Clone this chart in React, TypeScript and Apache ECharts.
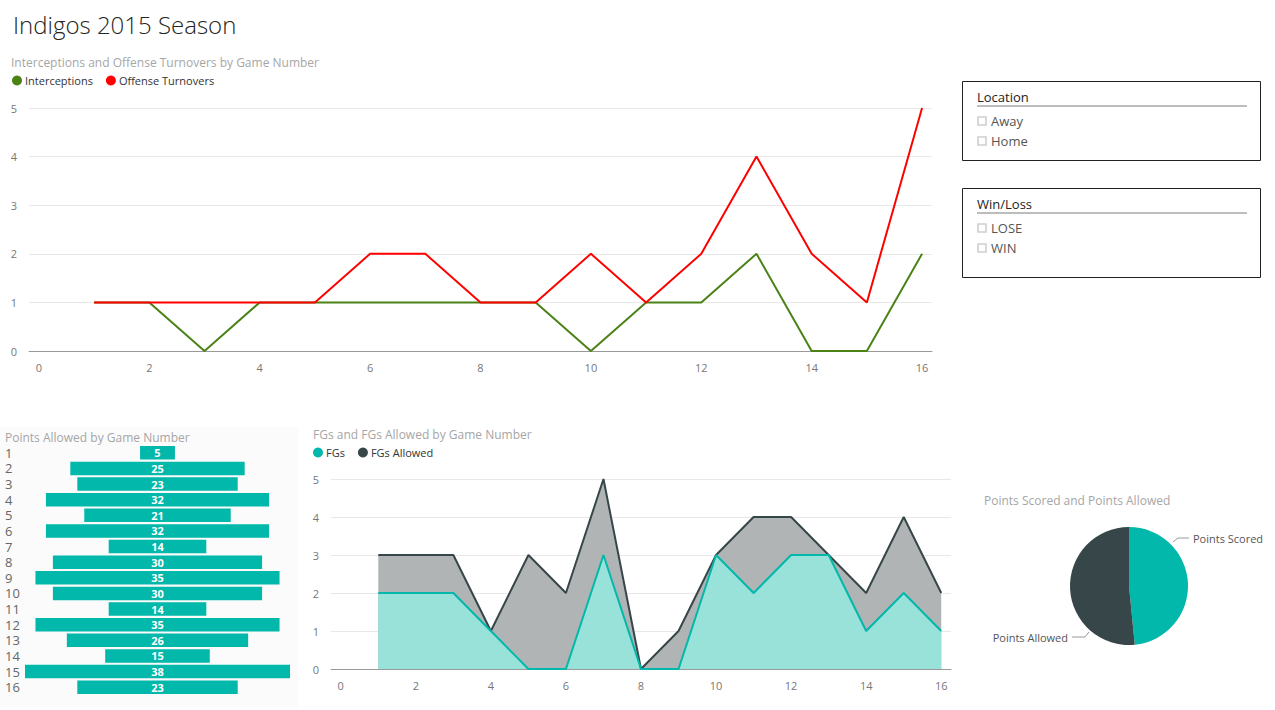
import React, { useEffect, useRef } from "react";
import * as echarts from "echarts";

const games = [1, 2, 3, 4, 5, 6, 7, 8, 9, 10, 11, 12, 13, 14, 15, 16];
const interceptions = [1, 1, 0, 1, 1, 1, 1, 1, 1, 0, 1, 1, 2, 0, 0, 2];
const offenseTurnovers = [1, 1, 1, 1, 1, 2, 2, 1, 1, 2, 1, 2, 4, 2, 1, 5];
const pointsAllowed = [5, 25, 23, 32, 21, 32, 14, 30, 35, 30, 14, 35, 26, 15, 38, 23];
const fgs = [2, 2, 2, 1, 0, 0, 3, 0, 0, 3, 2, 3, 3, 1, 2, 1];
const fgsAllowed = [3, 3, 3, 1, 3, 2, 5, 0, 1, 3, 4, 4, 3, 2, 4, 2];
const pointsScoredTotal = 374;
const xTickValues = [0, 2, 4, 6, 8, 10, 12, 14, 16];
const locationOptions = ["Away", "Home"];
const winLossOptions = ["LOSE", "WIN"];

const FONT = '"Segoe UI", "Open Sans", sans-serif';
const TEAL = "#01B8AA";
const DARK = "#374649";
const GREEN = "#4A8216";
const RED = "#FF0000";
const TITLE_GRAY = "#A6A6A6";
const AXIS_TXT = "#777777";

function slicer(title: string, options: string[], x: number, y: number, w: number, h: number) {
  const children: any[] = [
    { type: "rect", shape: { x: x + 0.5, y: y + 0.5, width: w, height: h }, style: { fill: "#fff", stroke: "#222", lineWidth: 1 } },
    { type: "text", x: x + 15, y: y + 16, style: { text: title, fill: "#222", font: `13px ${FONT}`, verticalAlign: "middle" } },
    { type: "line", shape: { x1: x + 15, y1: y + 25, x2: x + 285, y2: y + 25 }, style: { stroke: "#BDBDBD", lineWidth: 2 } },
  ];
  options.forEach((o, i) => {
    const cy = y + 40 + i * 20;
    children.push({ type: "rect", shape: { x: x + 16, y: cy - 4, width: 8, height: 8 }, style: { fill: "#fff", stroke: "#CFCFCF", lineWidth: 1.6 } });
    children.push({ type: "text", x: x + 29, y: cy, style: { text: o, fill: "#555", font: `13px ${FONT}`, verticalAlign: "middle" } });
  });
  return { type: "group", children };
}

export default function App() {
  const ref = useRef<HTMLDivElement>(null);
  useEffect(() => {
    document.body.style.margin = "0";
    const chart = echarts.init(ref.current!, undefined, { renderer: "svg" });
    const maxPA = Math.max(...pointsAllowed);
    const titleStyle = { fontFamily: FONT, fontSize: 12, fontWeight: "normal" as const, color: TITLE_GRAY };
    const legendText = { fontFamily: FONT, fontSize: 11, color: "#333", padding: [0, 0, 0, -2] };
    const option: any = {
      animation: false,
      textStyle: { fontFamily: FONT },
      title: [
        { text: "Indigos 2015 Season", left: 8, top: 7, textStyle: { fontFamily: FONT, fontSize: 24, fontWeight: 300, color: "#252423" } },
        { text: "Interceptions and Offense Turnovers by Game Number", left: 6, top: 51, textStyle: titleStyle },
        { text: "Points Allowed by Game Number", left: 0, top: 426, textStyle: titleStyle },
        { text: "FGs and FGs Allowed by Game Number", left: 308, top: 423, textStyle: titleStyle },
        { text: "Points Scored and Points Allowed", left: 979, top: 489, textStyle: titleStyle },
      ],
      legend: [
        {
          data: ["Interceptions", "Offense Turnovers"], left: 12, top: 75, icon: "circle", itemWidth: 10, itemHeight: 10, itemGap: 13,
          padding: 0, textStyle: legendText,
        },
        {
          data: ["FGs", "FGs Allowed"], left: 313, top: 447, icon: "circle", itemWidth: 10, itemHeight: 10, itemGap: 13,
          padding: 0, textStyle: legendText,
        },
      ],
      grid: [
        { left: 29, top: 108, width: 903, height: 243 },
        { left: 25, top: 445, width: 265, height: 250 },
        { left: 331, top: 479, width: 620, height: 190 },
      ],
      xAxis: [
        {
          gridIndex: 0, type: "value", min: -0.18, max: 16.18,
          axisLine: { lineStyle: { color: "#999" } }, axisTick: { show: false }, splitLine: { show: false },
          axisLabel: { customValues: xTickValues, color: AXIS_TXT, fontSize: 11, margin: 11, fontFamily: FONT },
        },
        { gridIndex: 1, type: "value", min: 0, max: maxPA, show: false },
        {
          gridIndex: 2, type: "value", min: -0.26, max: 16.26,
          axisLine: { lineStyle: { color: "#999" } }, axisTick: { show: false }, splitLine: { show: false },
          axisLabel: { customValues: xTickValues, color: AXIS_TXT, fontSize: 11, margin: 11, fontFamily: FONT },
        },
      ],
      yAxis: [
        {
          gridIndex: 0, type: "value", min: 0, max: 5, interval: 1,
          axisLine: { show: false }, axisTick: { show: false },
          splitLine: { lineStyle: { color: "#E8E8E8" } },
          axisLabel: { color: AXIS_TXT, fontSize: 11, margin: 12, fontFamily: FONT },
        },
        {
          gridIndex: 1, type: "category", inverse: true, data: games.map(String),
          axisLine: { show: false }, axisTick: { show: false },
          axisLabel: { interval: 0, align: "left", margin: 20, color: "#666", fontSize: 13, fontFamily: FONT },
        },
        {
          gridIndex: 2, type: "value", min: 0, max: 5, interval: 1,
          axisLine: { show: false }, axisTick: { show: false },
          splitLine: { lineStyle: { color: "#E8E8E8" } },
          axisLabel: { color: AXIS_TXT, fontSize: 11, margin: 12, fontFamily: FONT },
        },
      ],
      graphic: [
        { type: "rect", z: -10, silent: true, shape: { x: 0, y: 427, width: 298, height: 280 }, style: { fill: "#FBFBFB" } },
        slicer("Location", locationOptions, 962, 81, 298, 79),
        slicer("Win/Loss", winLossOptions, 962, 188, 298, 89),
      ],
      series: [
        {
          name: "Interceptions", type: "line", xAxisIndex: 0, yAxisIndex: 0, showSymbol: false, color: GREEN,
          lineStyle: { width: 2, color: GREEN }, data: games.map((g, i) => [g, interceptions[i]]),
        },
        {
          name: "Offense Turnovers", type: "line", xAxisIndex: 0, yAxisIndex: 0, showSymbol: false, color: RED,
          lineStyle: { width: 2, color: RED }, data: games.map((g, i) => [g, offenseTurnovers[i]]),
        },
        {
          name: "base", type: "bar", xAxisIndex: 1, yAxisIndex: 1, stack: "pa", barCategoryGap: "14%",
          itemStyle: { color: "transparent" }, silent: true,
          data: pointsAllowed.map((v) => (maxPA - v) / 2),
        },
        {
          name: "Points Allowed", type: "bar", xAxisIndex: 1, yAxisIndex: 1, stack: "pa", barCategoryGap: "14%",
          itemStyle: { color: TEAL },
          label: { show: true, position: "inside", color: "#fff", fontWeight: "bold", fontSize: 11, fontFamily: FONT },
          data: pointsAllowed,
        },
        {
          name: "FGs Allowed", type: "line", xAxisIndex: 2, yAxisIndex: 2, showSymbol: false, color: DARK,
          lineStyle: { width: 2, color: DARK }, areaStyle: { color: "#B0B4B5", opacity: 1 },
          data: games.map((g, i) => [g, fgsAllowed[i]]),
        },
        {
          name: "FGs", type: "line", xAxisIndex: 2, yAxisIndex: 2, showSymbol: false, color: TEAL,
          lineStyle: { width: 2, color: TEAL }, areaStyle: { color: "#99E2DA", opacity: 1 },
          data: games.map((g, i) => [g, fgs[i]]),
        },
        {
          name: "Points Split", type: "pie", center: [1129, 586], radius: 59, startAngle: 90, clockwise: true,
          label: { show: true, color: "#555", fontSize: 11, fontFamily: FONT, overflow: "none" },
          labelLine: { show: true, length: 8, length2: 12, lineStyle: { color: "#999", width: 1 } },
          labelLayout: (p: any) =>
            p.dataIndex === 0
              ? { x: 1193, y: 538, align: "left", verticalAlign: "middle", labelLinePoints: [[1173, 542], [1178, 538], [1189, 538]] }
              : { x: 1068, y: 637, align: "right", verticalAlign: "middle", labelLinePoints: [[1089, 632], [1085, 637], [1072, 637]] },
          data: [
            { name: "Points Scored", value: pointsScoredTotal, itemStyle: { color: TEAL } },
            { name: "Points Allowed", value: pointsAllowed.reduce((a, b) => a + b, 0), itemStyle: { color: DARK } },
          ],
        },
      ],
    };
    chart.setOption(option);
    return () => chart.dispose();
  }, []);
  return <div ref={ref} style={{ width: 1275, height: 710 }} />;
}
